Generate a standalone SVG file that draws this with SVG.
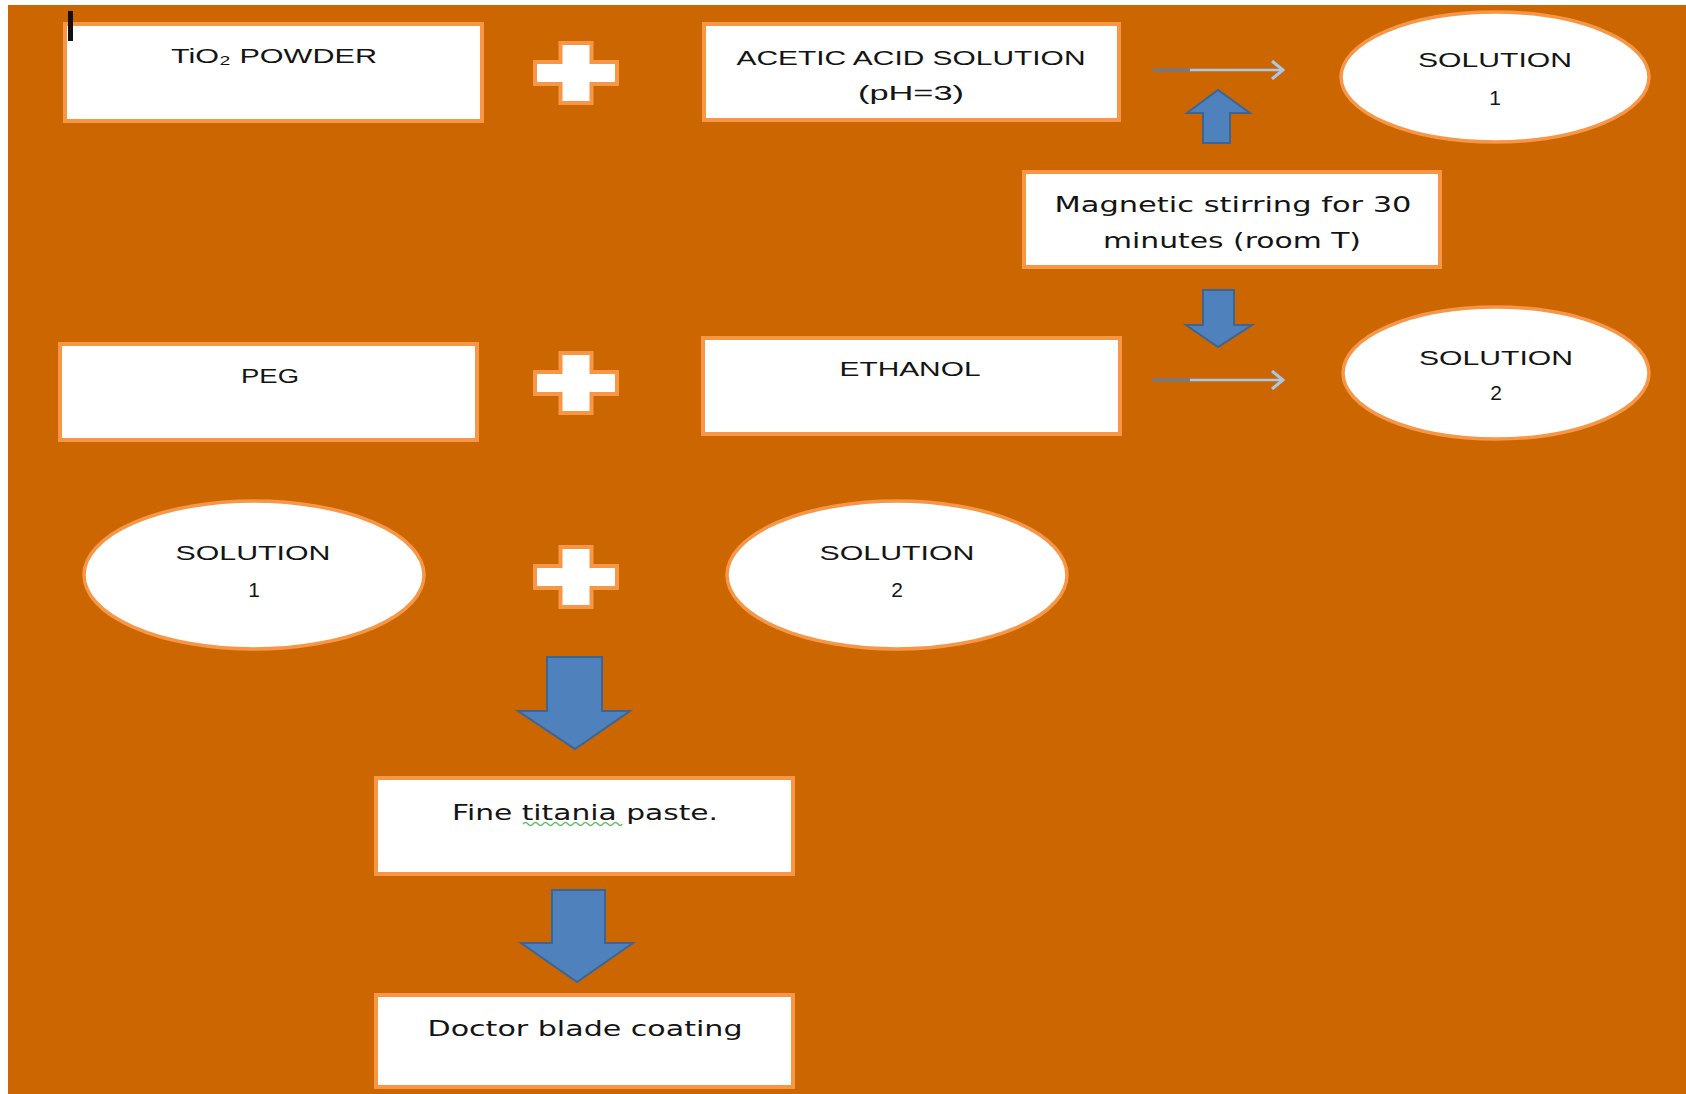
<svg xmlns="http://www.w3.org/2000/svg" width="1686" height="1094" viewBox="0 0 1686 1094">
  <style>
    .box { fill: #ffffff; stroke: #F79646; stroke-width: 4; }
    .ell { fill: #ffffff; stroke: #F79646; stroke-width: 3.5; }
    .plus { fill: #ffffff; stroke: #F79646; stroke-width: 4; stroke-linejoin: miter; }
    .caps { font-family: "Liberation Sans", Arial, sans-serif; font-size: 21px; fill: #141414; text-anchor: middle; }
    .mixed { font-family: "DejaVu Sans", Verdana, sans-serif; font-size: 22px; fill: #141414; text-anchor: middle; }
    .blk { fill: #4F81BD; stroke: #3A6595; stroke-width: 2; stroke-linejoin: miter; }
    .thin { stroke: #4F81BD; stroke-width: 2.5; fill: none; }
    .thinhi { stroke: #A9C8EA; stroke-width: 2.5; fill: none; }
  </style>
  <defs>
    <path id="plus" d="M -15.5 -30 H 15.5 V -11 H 41 V 11 H 15.5 V 30 H -15.5 V 11 H -41 V -11 H -15.5 Z"/>
    <marker id="openhead" markerWidth="14" markerHeight="20" refX="12" refY="10" orient="auto" markerUnits="userSpaceOnUse">
      <polyline points="1,1 12,10 1,19" fill="none" stroke="#A9C8EA" stroke-width="3"/>
    </marker>
  </defs>

  <rect x="0" y="0" width="1686" height="1094" fill="#ffffff"/>
  <rect x="8" y="5" width="1678" height="1089" fill="#CC6600"/>

  <!-- Row 1 -->
  <g id="tio2">
    <rect class="box" x="65" y="24" width="417" height="97"/>
    <text class="caps" x="274" y="63" textLength="206" lengthAdjust="spacingAndGlyphs">TiO₂ POWDER</text>
  </g>
  <g id="plus1"><use href="#plus" class="plus" x="576" y="73"/></g>
  <g id="acetic">
    <rect class="box" x="704" y="24" width="415" height="96"/>
    <text class="caps" x="911" y="65" textLength="349" lengthAdjust="spacingAndGlyphs">ACETIC ACID SOLUTION</text>
    <text class="caps" x="911" y="100" textLength="106" lengthAdjust="spacingAndGlyphs">(pH=3)</text>
  </g>
  <g id="solution1-top">
    <ellipse class="ell" cx="1495" cy="77" rx="154" ry="65"/>
    <text class="caps" x="1495" y="67" textLength="154" lengthAdjust="spacingAndGlyphs">SOLUTION</text>
    <text class="caps" x="1495" y="105">1</text>
  </g>

  <g id="magnetic">
    <rect class="box" x="1024" y="172" width="416" height="95"/>
    <text class="mixed" x="1233" y="212" textLength="357" lengthAdjust="spacingAndGlyphs">Magnetic stirring for 30</text>
    <text class="mixed" x="1232" y="248" textLength="258" lengthAdjust="spacingAndGlyphs">minutes (room T)</text>
  </g>

  <!-- Row 2 -->
  <g id="peg">
    <rect class="box" x="60" y="344" width="417" height="96"/>
    <text class="caps" x="270" y="383" textLength="58" lengthAdjust="spacingAndGlyphs">PEG</text>
  </g>
  <g id="plus2"><use href="#plus" class="plus" x="576" y="383"/></g>
  <g id="ethanol">
    <rect class="box" x="703" y="338" width="417" height="96"/>
    <text class="caps" x="910" y="376" textLength="141" lengthAdjust="spacingAndGlyphs">ETHANOL</text>
  </g>
  <g id="solution2-top">
    <ellipse class="ell" cx="1496" cy="373" rx="153" ry="66"/>
    <text class="caps" x="1496" y="365" textLength="154" lengthAdjust="spacingAndGlyphs">SOLUTION</text>
    <text class="caps" x="1496" y="400">2</text>
  </g>

  <!-- Row 3 -->
  <g id="solution1-mix">
    <ellipse class="ell" cx="254" cy="575" rx="170" ry="74"/>
    <text class="caps" x="253" y="560" textLength="155" lengthAdjust="spacingAndGlyphs">SOLUTION</text>
    <text class="caps" x="254" y="597">1</text>
  </g>
  <g id="plus3"><use href="#plus" class="plus" x="576" y="577"/></g>
  <g id="solution2-mix">
    <ellipse class="ell" cx="897" cy="575" rx="170" ry="74"/>
    <text class="caps" x="897" y="560" textLength="155" lengthAdjust="spacingAndGlyphs">SOLUTION</text>
    <text class="caps" x="897" y="597">2</text>
  </g>

  <g id="paste">
    <rect class="box" x="376" y="778" width="417" height="96"/>
    <text class="mixed" x="585" y="820" textLength="266" lengthAdjust="spacingAndGlyphs">Fine titania paste.</text>
    <path d="M 523 824 q 2.5 -3 5 0 t 5 0 t 5 0 t 5 0 t 5 0 t 5 0 t 5 0 t 5 0 t 5 0 t 5 0 t 5 0 t 5 0 t 5 0 t 5 0 t 5 0 t 5 0 t 5 0 t 5 0 t 5 0 t 4 0" fill="none" stroke="#5DBB63" stroke-width="1.3"/>
  </g>
  <g id="doctor">
    <rect class="box" x="376" y="995" width="417" height="92"/>
    <text class="mixed" x="585" y="1036" textLength="315" lengthAdjust="spacingAndGlyphs">Doctor blade coating</text>
  </g>

  <!-- cursor mark -->
  <rect x="68" y="11" width="5" height="30" fill="#111111"/>

  <!-- Connectors -->
  <g id="connectors">
    <line class="thin" x1="1153" y1="70" x2="1200" y2="70"/>
    <line class="thinhi" x1="1190" y1="70" x2="1283" y2="70" marker-end="url(#openhead)"/>
    <line class="thin" x1="1153" y1="380" x2="1200" y2="380"/>
    <line class="thinhi" x1="1190" y1="380" x2="1283" y2="380" marker-end="url(#openhead)"/>
    <!-- up arrow from magnetic stirring to row 1 -->
    <path class="blk" d="M 1203 143 V 113 H 1187 L 1218 90 L 1250 113 H 1230 V 143 Z"/>
    <!-- down arrow from magnetic stirring to row 2 -->
    <path class="blk" d="M 1203 290 H 1234 V 325 H 1252 L 1218 347 L 1186 325 H 1203 Z"/>
    <!-- big arrows -->
    <path class="blk" d="M 547 657 H 602 V 711 H 630 L 575 749 L 518 711 H 547 Z"/>
    <path class="blk" d="M 552 890 H 605 V 943 H 633 L 577 982 L 521 943 H 552 Z"/>
  </g>
</svg>
